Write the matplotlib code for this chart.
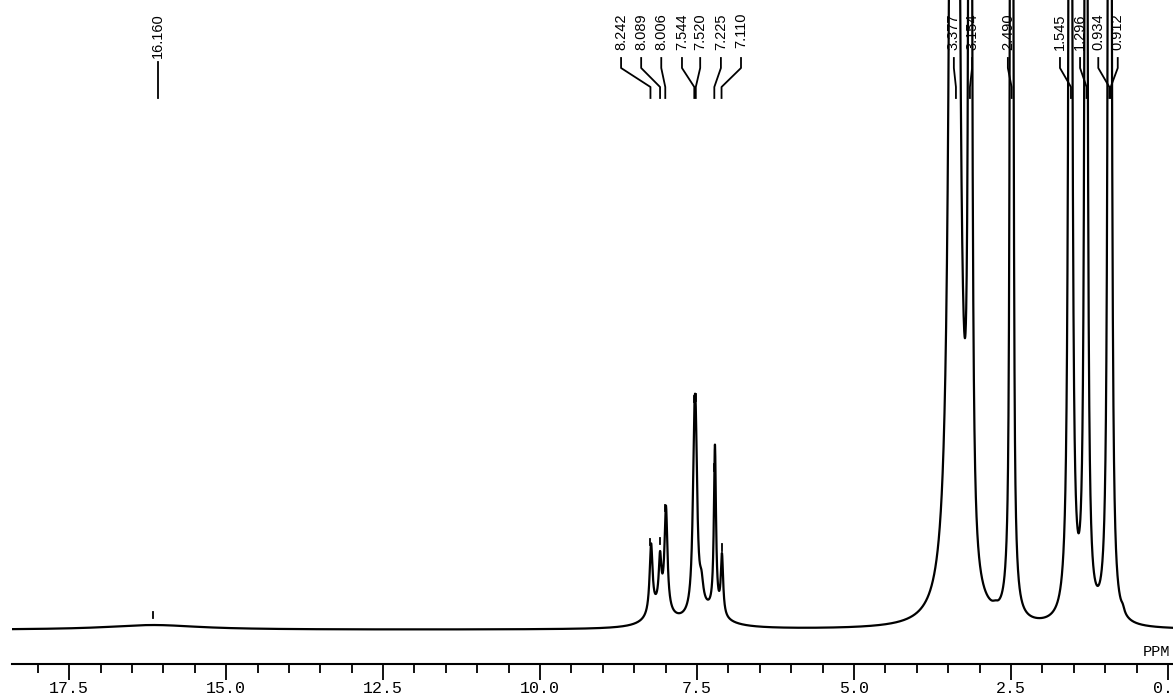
import numpy as np
import matplotlib.pyplot as plt
from matplotlib.ticker import MultipleLocator, FormatStrFormatter
from matplotlib.transforms import blended_transform_factory

# peaks: position (ppm), height above baseline (plot units),
# half width (ppm) and lorentzian fraction of the line shape
shifts = [16.16, 8.232, 8.089, 7.995, 8.10, 7.35, 7.544, 7.520, 7.430, 7.215, 7.103,
          3.400, 3.150, 2.750, 2.490, 1.555, 1.305, 0.940, 0.915, 0.720]
heights = [5, 73, 50, 108, 18, 16, 134, 134, 22, 175, 63,
           6500, 5000, 3, 2000, 2500, 2000, 1200, 1200, 5]
widths = [0.9, 0.028, 0.025, 0.028, 0.2, 0.3, 0.03, 0.03, 0.035, 0.02, 0.022,
          0.03, 0.012, 0.05, 0.022, 0.019, 0.018, 0.018, 0.018, 0.03]
lorentz = [1, 1, 1, 1, 1, 1, 1, 1, 1, 1, 1,
           1, 1, 1, 0.6, 1, 1, 1, 1, 1]

# peak pick labels
label_text = ['16.160', '8.242', '8.089', '8.006', '7.544', '7.520', '7.225', '7.110',
              '3.377', '3.154', '2.490', '1.545', '1.296', '0.934', '0.912']
label_at = [16.08, 8.71, 8.39, 8.07, 7.74, 7.45, 7.12, 6.80,
            3.41, 3.12, 2.55, 1.72, 1.40, 1.11, 0.80]

ppm_left, ppm_right = 18.41, -0.08


def spectrum(x):
    y = np.zeros_like(x)
    for c, h, w, e in zip(shifts, heights, widths, lorentz):
        u = (x - c) / w
        y += h * (e / (1 + u ** 2) + (1 - e) * np.exp(-np.log(2) * u ** 2))
    return y


fig = plt.figure(figsize=(11.73, 6.96), dpi=100)
ax = fig.add_axes([12 / 1173, 32 / 696, 1 - 12 / 1173, 664 / 696])

x = np.linspace(ppm_left, ppm_right, 10000)
ax.plot(x, spectrum(x), color='black', lw=1.6)

ax.set_xlim(ppm_left, ppm_right)
ax.set_ylim(-36, 664)
for s in ['top', 'left', 'right']:
    ax.spines[s].set_visible(False)
ax.spines['bottom'].set_linewidth(1.5)
ax.set_yticks([])
ax.xaxis.set_major_locator(MultipleLocator(2.5))
ax.xaxis.set_minor_locator(MultipleLocator(0.5))
ax.xaxis.set_major_formatter(FormatStrFormatter('%.1f'))
ax.tick_params(axis='x', which='major', direction='out', length=11.5, width=1.3, pad=1,
               labelsize=12)
ax.tick_params(axis='x', which='minor', direction='out', length=6.5, width=1.3)
for t in ax.get_xticklabels():
    t.set_family('Liberation Mono')

ax.text(1143 / 1173, (696 - 659) / 696, 'PPM', transform=fig.transFigure,
        family='Liberation Mono', fontsize=11, ha='left', va='bottom')

# labels and leader lines at the top
tr = blended_transform_factory(ax.transData, ax.transAxes)


def fy(px):
    return 1 - px / 664


for txt, lx in zip(label_text, label_at):
    pk = float(txt)
    ax.text(lx, fy(13), txt, transform=tr, rotation=90, ha='center', va='top',
            family='Liberation Sans', fontsize=10.5)
    if txt == '16.160':
        ax.plot([lx, lx], [fy(62), fy(98)], transform=tr, color='black', lw=1.3)
    else:
        ax.plot([lx, lx, pk, pk], [fy(58), fy(68), fy(87), fy(98)], transform=tr,
                color='black', lw=1.3)
    top = spectrum(np.array([pk]))[0]
    if top < 600:
        ax.plot([pk, pk], [top + 7, top + 14], color='black', lw=1.3)

fig.savefig('out.png', dpi=100)
